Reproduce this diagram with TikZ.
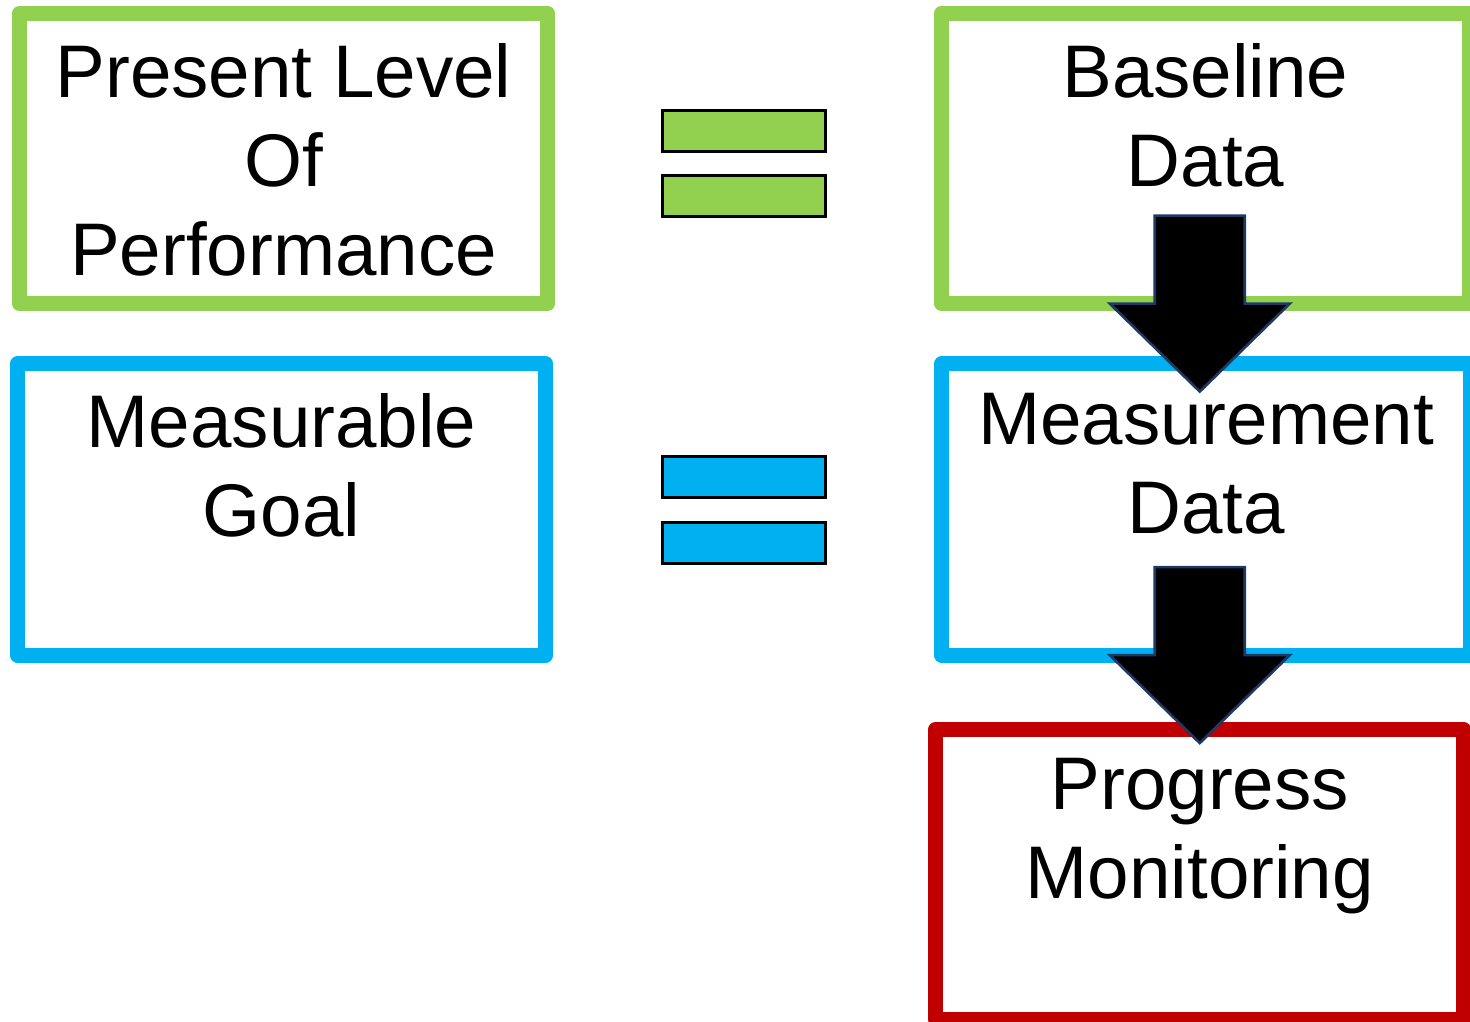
\documentclass[tikz,border=0pt]{standalone}
\usepackage{fontspec}
\setmainfont{Liberation Sans}
\usetikzlibrary{calc}

\definecolor{boxgreen}{RGB}{146,208,80}
\definecolor{boxblue}{RGB}{0,176,240}
\definecolor{boxred}{RGB}{192,0,0}
\definecolor{arrowedge}{RGB}{31,56,100}

\begin{document}
\begin{tikzpicture}[x=0.01cm,y=-0.01cm,
  box/.style={draw, line width=0.15cm, line join=round, inner sep=0pt, outer sep=0pt,
    minimum width=5.28cm, minimum height=2.9cm},
  bar/.style={draw=black, line width=0.85pt, inner sep=0pt, outer sep=0pt,
    minimum width=1.63cm, minimum height=0.41cm},
  lbl/.style={anchor=north, align=center, inner sep=0pt, font=\fontsize{21.2}{25.3}\selectfont},
  blockarrow/.style={fill=black, draw=arrowedge, line width=0.75pt, line join=miter}]

\path[use as bounding box, clip] (0,0) rectangle (1470,1022);

\node[box, draw=boxgreen] (plop) at (283.5,158.5) {};
\node[box, draw=boxgreen] (bdata) at (1205.5,158.5) {};
\node[box, draw=boxblue, minimum height=2.91cm] (goal) at (281.5,509.5) {};
\node[box, draw=boxblue, minimum height=2.91cm] (mdata) at (1206,509.5) {};
\node[box, draw=boxred, minimum width=5.275cm] (pm) at (1199.75,874.5) {};

\node[bar, fill=boxgreen] (eqg1) at (744,131) {};
\node[bar, fill=boxgreen] (eqg2) at (744,196) {};
\node[bar, fill=boxblue] (eqb1) at (744,477) {};
\node[bar, fill=boxblue] (eqb2) at (744,543) {};

\filldraw[blockarrow, shift={(pm.north |- bdata.south)}]
  (-45,-88) -- (45,-88) -- (45,0) -- (90,0) -- (0,88) -- (-90,0) -- (-45,0) -- cycle;
\filldraw[blockarrow, shift={(pm.north |- mdata.south)}]
  (-45,-88) -- (45,-88) -- (45,0) -- (90,0) -- (0,88) -- (-90,0) -- (-45,0) -- cycle;

\node[lbl] (plopt) at ([yshift=-0.29cm]plop.north) {Present Level\\Of\\Performance};
\node[lbl] (bdatat) at ([yshift=-0.29cm]bdata.north) {Baseline\\Data};
\node[lbl] (goalt) at ([yshift=-0.29cm]goal.north) {Measurable\\Goal};
\node[lbl] (mdatat) at ([yshift=-0.29cm]mdata.north) {Measurement\\Data};
\node[lbl] (pmt) at ([yshift=-0.28cm]pm.north) {Progress\\Monitoring};
\end{tikzpicture}
\end{document}
